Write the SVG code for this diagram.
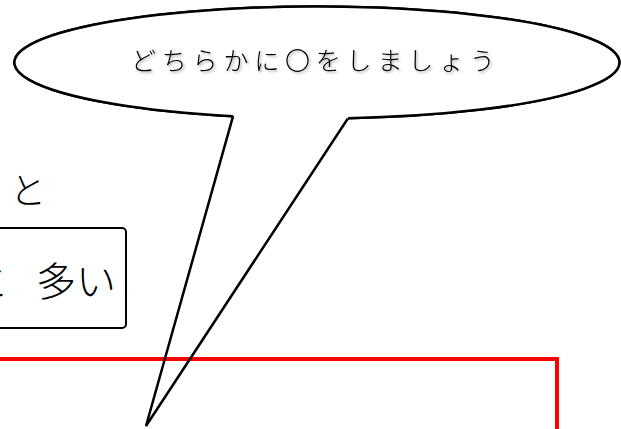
<svg xmlns="http://www.w3.org/2000/svg" width="621" height="429" viewBox="0 0 621 429">
<style>
.jp{font-family:"Noto Sans CJK JP","Noto Sans",sans-serif;fill:#000}
.bub{font-weight:300;font-size:25px;letter-spacing:5.8px}
</style>
<defs>
<filter id="sh" x="-10%" y="-50%" width="120%" height="200%">
<feDropShadow dx="1.5" dy="1.5" stdDeviation="1" flood-color="#000" flood-opacity="0.35"/>
</filter>
</defs>
<rect width="621" height="429" fill="#fff"/>
<g id="word-to">
<text class="jp" x="10" y="204" font-size="36" font-weight="300">と</text>
</g>
<g id="box-ooi">
<rect x="-10" y="228" width="136" height="100" rx="4" fill="#fff" stroke="#000" stroke-width="2"/>
<text class="jp" y="296" font-size="40" font-weight="300"><tspan x="-31">と</tspan><tspan x="36">多い</tspan></text>
</g>
<g id="red-frame">
<rect x="-10" y="359" width="567" height="100" fill="none" stroke="#ff0000" stroke-width="4"/>
</g>
<g id="callout">
<path d="M 233 116.3 A 302.5 56 0 1 1 348 118.2 L 146 426 Z" fill="none" stroke="#000" stroke-width="2.5" stroke-linejoin="miter"/>
<path d="M 233 116.3 A 302.5 56 0 1 1 348 118.2 Z" fill="#fff" stroke="none"/>
<path d="M 233 116.3 A 302.5 56 0 1 1 348 118.2" fill="none" stroke="#000" stroke-width="2.5"/>
<text class="jp bub" x="131" y="70" filter="url(#sh)">どちらかに〇をしましょう</text>
</g>
<g id="connectors"></g>
</svg>
